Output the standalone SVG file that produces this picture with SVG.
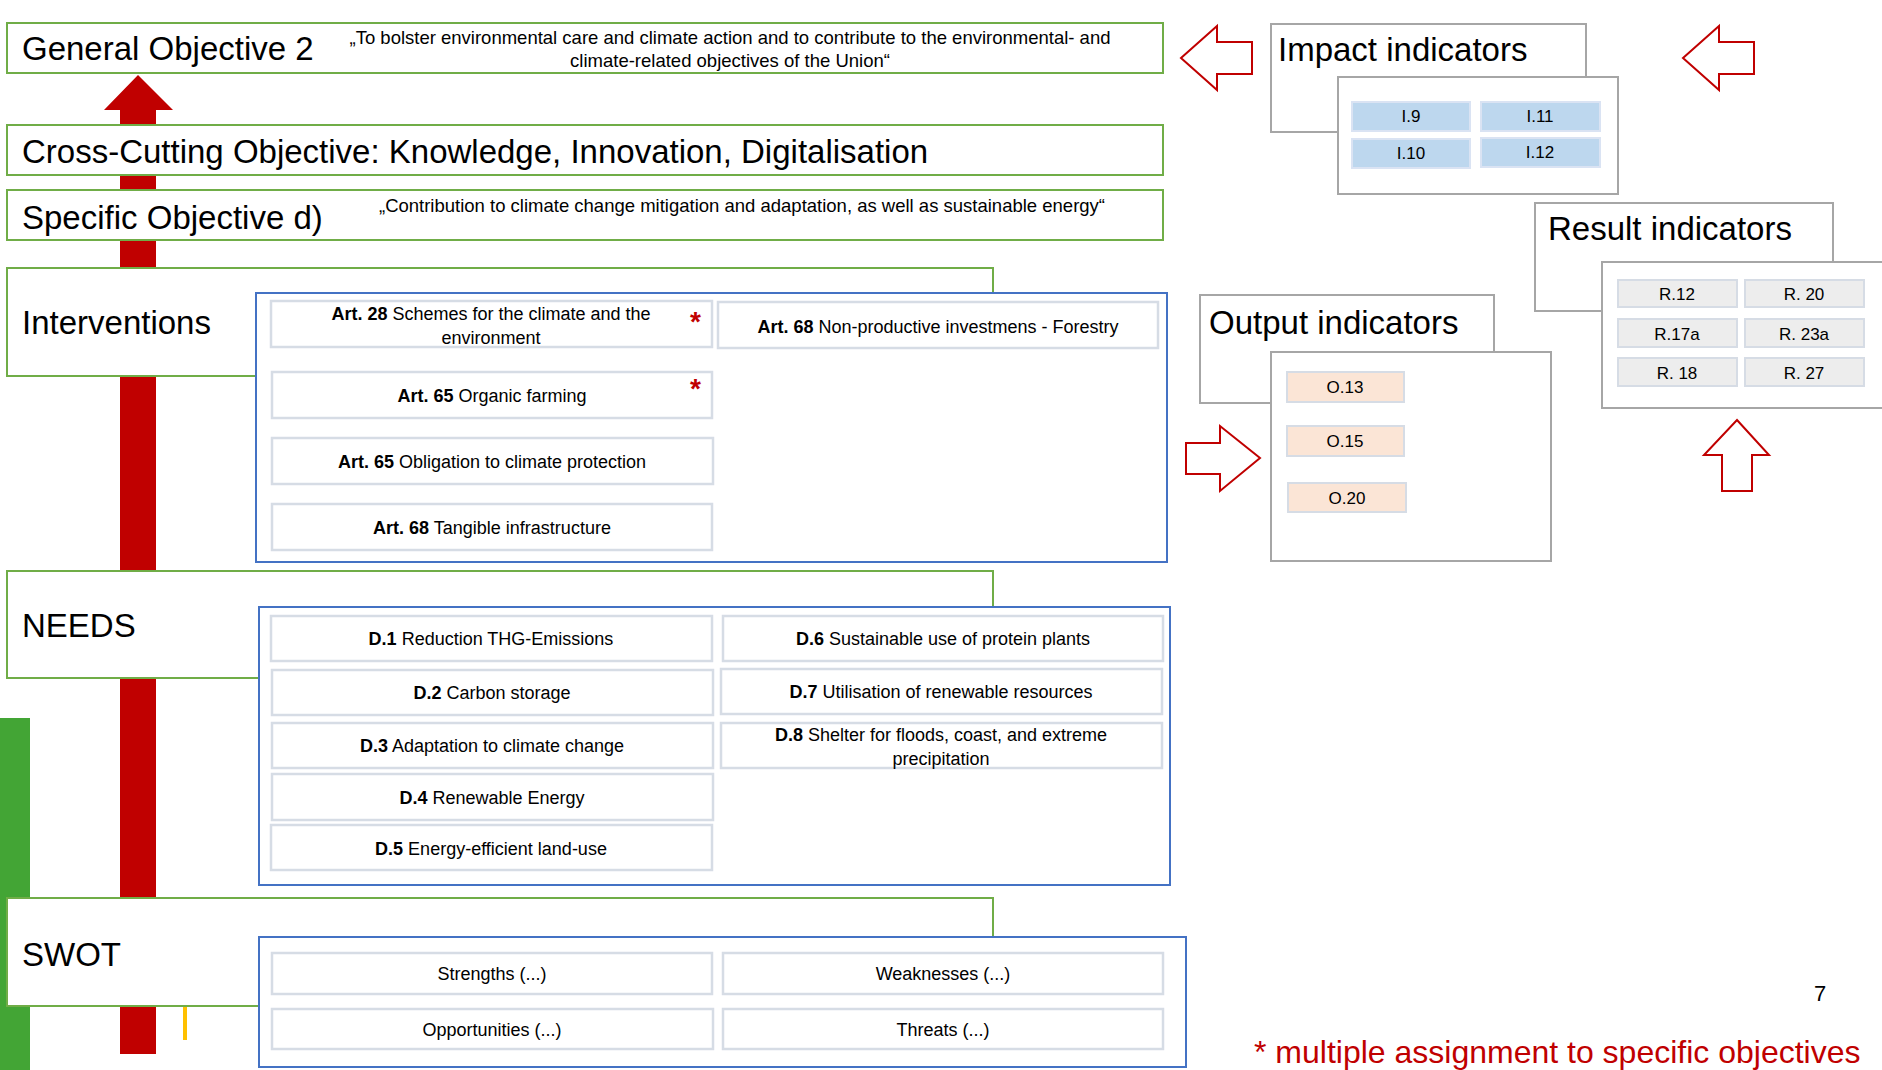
<svg xmlns="http://www.w3.org/2000/svg" width="1882" height="1070" viewBox="0 0 1882 1070">
<style>
text{font-family:"Liberation Sans",Arial,sans-serif;fill:#000}
.big{font-size:33px}
.q{font-size:18.5px;text-anchor:middle}
.t{font-size:18px;text-anchor:middle}
.c{font-size:17px;text-anchor:middle}
.b{font-weight:bold}
.green{fill:#fff;stroke:#70AD47;stroke-width:2}
.blue{fill:#fff;stroke:#4472C4;stroke-width:2}
.item{fill:#fff;stroke:#D6DCE5;stroke-width:2.5}
.gray{fill:#fff;stroke:#A6A6A6;stroke-width:2}
.imp{fill:#BDD7EE;stroke:#DAE3F3;stroke-width:2}
.out{fill:#FBE5D6;stroke:#D6DCE5;stroke-width:2}
.res{fill:#EDEDED;stroke:#D6DCE5;stroke-width:2}
.outline{fill:#fff;stroke:#C00000;stroke-width:2}
.star{fill:#C00000;font-size:28px;font-weight:bold}
</style>
<rect width="1882" height="1070" fill="#fff"/>
<rect x="0" y="718" width="30" height="352" fill="#43A535"/>
<line x1="185" y1="1006" x2="185" y2="1040" stroke="#FFC000" stroke-width="4"/>
<g id="connectors">
<path d="M120 1054 V110 H104 L138 75 L173 110 H156 V1054 Z" fill="#C00000"/>
<path class="outline" d="M1181 58 L1217 26 V42 H1252 V74 H1217 V90 Z"/>
<path class="outline" d="M1683 58 L1719 26 V42 H1754 V74 H1719 V90 Z"/>
<path class="outline" d="M1186 443 H1220 V426 L1260 458 L1220 491 V474 H1186 Z"/>
<path class="outline" d="M1737 420 L1769 455 H1752 V491 H1722 V455 H1704 Z"/>
</g>
<g id="general">
<rect class="green" x="7" y="23" width="1156" height="50"/>
<text class="big" x="22" y="60">General Objective 2</text>
<text class="q" x="730" y="44">„To bolster environmental care and climate action and to contribute to the environmental- and</text>
<text class="q" x="730" y="67">climate-related objectives of the Union“</text>
</g>
<g id="crosscutting">
<rect class="green" x="7" y="125" width="1156" height="50"/>
<text class="big" x="22" y="163">Cross-Cutting Objective: Knowledge, Innovation, Digitalisation</text>
</g>
<g id="specific">
<rect class="green" x="7" y="190" width="1156" height="50"/>
<text class="big" x="22" y="229">Specific Objective d)</text>
<text class="q" x="742" y="212">„Contribution to climate change mitigation and adaptation, as well as sustainable energy“</text>
</g>
<g id="interventions">
<rect class="green" x="7" y="268" width="986" height="108"/>
<text class="big" x="22" y="334">Interventions</text>
<rect class="blue" x="256" y="293" width="911" height="269"/>
<rect class="item" x="271" y="301" width="441" height="46"/>
<text class="t" x="491" y="320"><tspan class="b">Art. 28</tspan> Schemes for the climate and the</text>
<text class="t" x="491" y="344">environment</text>
<text class="star" x="690" y="331">*</text>
<rect class="item" x="718" y="302" width="440" height="46"/>
<text class="t" x="938" y="333"><tspan class="b">Art. 68</tspan> Non-productive investmens - Forestry</text>
<rect class="item" x="272" y="372" width="440" height="46"/>
<text class="t" x="492" y="402"><tspan class="b">Art. 65</tspan> Organic farming</text>
<text class="star" x="690" y="398">*</text>
<rect class="item" x="272" y="438" width="441" height="46"/>
<text class="t" x="492" y="468"><tspan class="b">Art. 65</tspan> Obligation to climate protection</text>
<rect class="item" x="272" y="504" width="440" height="46"/>
<text class="t" x="492" y="534"><tspan class="b">Art. 68</tspan> Tangible infrastructure</text>
</g>
<g id="needs">
<rect class="green" x="7" y="571" width="986" height="107"/>
<text class="big" x="22" y="637">NEEDS</text>
<rect class="blue" x="259" y="607" width="911" height="278"/>
<rect class="item" x="271" y="616" width="441" height="45"/>
<text class="t" x="491" y="645"><tspan class="b">D.1</tspan> Reduction THG-Emissions</text>
<rect class="item" x="723" y="616" width="440" height="45"/>
<text class="t" x="943" y="645"><tspan class="b">D.6</tspan> Sustainable use of protein plants</text>
<rect class="item" x="272" y="670" width="441" height="45"/>
<text class="t" x="492" y="699"><tspan class="b">D.2</tspan> Carbon storage</text>
<rect class="item" x="721" y="669" width="441" height="45"/>
<text class="t" x="941" y="698"><tspan class="b">D.7</tspan> Utilisation of renewable resources</text>
<rect class="item" x="272" y="723" width="441" height="45"/>
<text class="t" x="492" y="752"><tspan class="b">D.3</tspan> Adaptation to climate change</text>
<rect class="item" x="721" y="723" width="441" height="45"/>
<text class="t" x="941" y="741"><tspan class="b">D.8</tspan> Shelter for floods, coast, and extreme</text>
<text class="t" x="941" y="765">precipitation</text>
<rect class="item" x="272" y="774" width="441" height="46"/>
<text class="t" x="492" y="804"><tspan class="b">D.4</tspan> Renewable Energy</text>
<rect class="item" x="271" y="825" width="441" height="45"/>
<text class="t" x="491" y="855"><tspan class="b">D.5</tspan> Energy-efficient land-use</text>
</g>
<g id="swot">
<rect class="green" x="7" y="898" width="986" height="108"/>
<text class="big" x="22" y="966">SWOT</text>
<rect class="blue" x="259" y="937" width="927" height="130"/>
<rect class="item" x="272" y="953" width="440" height="41"/>
<text class="t" x="492" y="980">Strengths (...)</text>
<rect class="item" x="723" y="953" width="440" height="41"/>
<text class="t" x="943" y="980">Weaknesses (...)</text>
<rect class="item" x="272" y="1009" width="441" height="40"/>
<text class="t" x="492" y="1036">Opportunities (...)</text>
<rect class="item" x="723" y="1009" width="440" height="40"/>
<text class="t" x="943" y="1036">Threats (...)</text>
</g>
<g id="impact">
<rect class="gray" x="1271" y="24" width="315" height="108"/>
<text class="big" x="1278" y="61">Impact indicators</text>
<rect class="gray" x="1338" y="77" width="280" height="117"/>
<rect class="imp" x="1352" y="102" width="118" height="29"/>
<text class="c" x="1411" y="122">I.9</text>
<rect class="imp" x="1481" y="102" width="119" height="29"/>
<text class="c" x="1540" y="122">I.11</text>
<rect class="imp" x="1352" y="139" width="118" height="29"/>
<text class="c" x="1411" y="159">I.10</text>
<rect class="imp" x="1481" y="138" width="119" height="29"/>
<text class="c" x="1540" y="158">I.12</text>
</g>
<g id="result">
<rect class="gray" x="1535" y="203" width="298" height="108"/>
<text class="big" x="1548" y="240">Result indicators</text>
<rect class="gray" x="1602" y="262" width="282" height="146"/>
<rect class="res" x="1618" y="280" width="119" height="27"/>
<text class="c" x="1677" y="300">R.12</text>
<rect class="res" x="1745" y="280" width="119" height="27"/>
<text class="c" x="1804" y="300">R. 20</text>
<rect class="res" x="1618" y="319" width="119" height="28"/>
<text class="c" x="1677" y="340">R.17a</text>
<rect class="res" x="1745" y="319" width="119" height="28"/>
<text class="c" x="1804" y="340">R. 23a</text>
<rect class="res" x="1618" y="358" width="119" height="28"/>
<text class="c" x="1677" y="379">R. 18</text>
<rect class="res" x="1745" y="358" width="119" height="28"/>
<text class="c" x="1804" y="379">R. 27</text>
</g>
<g id="output">
<rect class="gray" x="1200" y="295" width="294" height="108"/>
<text class="big" x="1209" y="334">Output indicators</text>
<rect class="gray" x="1271" y="352" width="280" height="209"/>
<rect class="out" x="1287" y="372" width="117" height="30"/>
<text class="c" x="1345" y="393">O.13</text>
<rect class="out" x="1287" y="426" width="117" height="30"/>
<text class="c" x="1345" y="447">O.15</text>
<rect class="out" x="1288" y="483" width="118" height="29"/>
<text class="c" x="1347" y="504">O.20</text>
</g>
<text x="1814" y="1001" style="font-size:22px">7</text>
<text x="1254" y="1063" style="font-size:32px;fill:#C00000">* multiple assignment to specific objectives</text>
</svg>
